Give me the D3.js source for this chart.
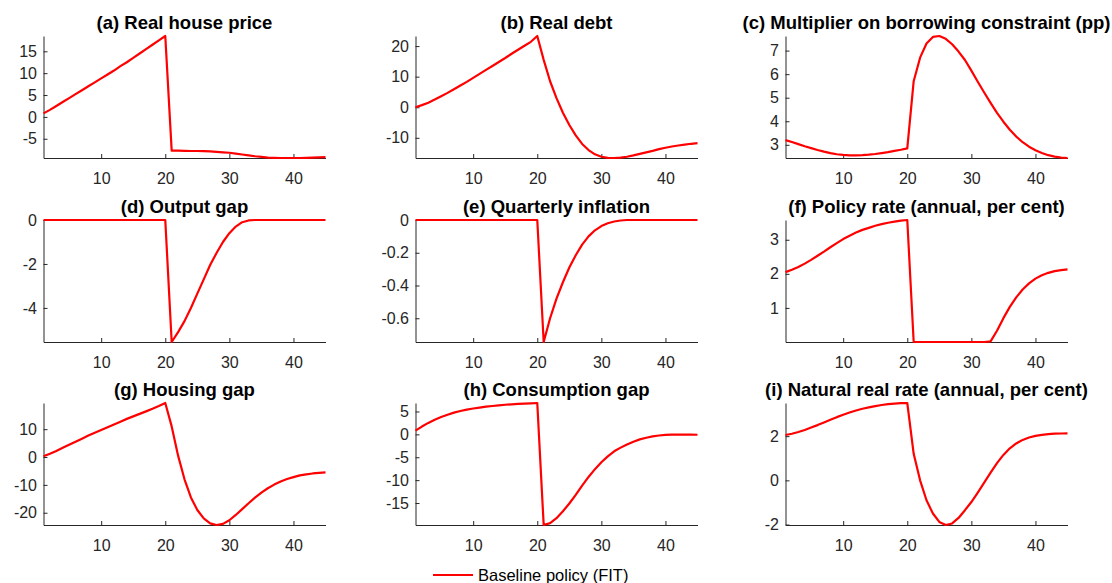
<!DOCTYPE html>
<html>
<head>
<meta charset="utf-8">
<script src="https://cdn.jsdelivr.net/npm/d3@7"></script>
<style>
  body { margin:0; background:#fff; }
  text { font-family: "Liberation Sans", Arial, sans-serif; }
</style>
</head>
<body>
<script>
// quarters 1..45
var quarters = d3.range(1, 46);

var housePrice = [0.8,1.6,2.5,3.4,4.3,5.2,6.1,7.0,7.9,8.8,9.7,10.6,11.6,12.5,13.5,14.5,15.5,16.5,17.5,18.5,
  -7.7,-7.7,-7.75,-7.8,-7.8,-7.85,-7.9,-8.0,-8.1,-8.2,-8.4,-8.6,-8.8,-9.0,-9.15,-9.3,-9.35,-9.4,-9.4,-9.4,-9.4,-9.35,-9.3,-9.25,-9.2];
var realDebt = [0,0.7,1.5,2.5,3.6,4.7,5.9,7.1,8.3,9.6,10.9,12.2,13.5,14.8,16.1,17.5,18.8,20.1,21.4,23.3,
  15.5,8.5,3.0,-1.8,-5.8,-9.2,-12.0,-14.0,-15.4,-16.2,-16.55,-16.6,-16.5,-16.2,-15.75,-15.25,-14.75,-14.25,-13.7,-13.25,-12.85,-12.5,-12.2,-11.95,-11.75];
var multiplier = [3.2,3.12,3.03,2.94,2.86,2.78,2.71,2.65,2.6,2.57,2.55,2.55,2.56,2.58,2.61,2.65,2.69,2.74,2.79,2.85,
  5.7,6.7,7.3,7.58,7.62,7.5,7.27,6.96,6.6,6.15,5.68,5.22,4.78,4.36,3.98,3.64,3.35,3.11,2.92,2.77,2.65,2.56,2.5,2.46,2.44];
var outputGap = [0,0,0,0,0,0,0,0,0,0,0,0,0,0,0,0,0,0,0,0,
  -5.55,-5.1,-4.6,-4.0,-3.35,-2.7,-2.05,-1.5,-1.0,-0.6,-0.3,-0.1,-0.02,0,0,0,0,0,0,0,0,0,0,0,0];
var inflation = [0,0,0,0,0,0,0,0,0,0,0,0,0,0,0,0,0,0,0,0,
  -0.745,-0.6,-0.48,-0.38,-0.29,-0.215,-0.15,-0.1,-0.063,-0.037,-0.02,-0.009,-0.003,0,0,0,0,0,0,0,0,0,0,0,0];
var policyRate = [2.05,2.12,2.2,2.3,2.41,2.53,2.65,2.78,2.9,3.02,3.12,3.21,3.29,3.35,3.41,3.46,3.5,3.53,3.56,3.58,
  0,0,0,0,0,0,0,0,0,0,0,0,0.02,0.33,0.7,1.03,1.31,1.54,1.72,1.86,1.96,2.03,2.08,2.11,2.13];
var housingGap = [0.3,1.2,2.2,3.3,4.4,5.5,6.6,7.7,8.7,9.7,10.7,11.7,12.7,13.7,14.6,15.5,16.4,17.3,18.3,19.4,
  11,0.5,-8,-14.5,-19,-22,-23.8,-24.4,-24,-22.7,-20.8,-18.7,-16.6,-14.6,-12.8,-11.2,-9.9,-8.8,-7.9,-7.2,-6.6,-6.2,-5.9,-5.7,-5.5];
var consGap = [0.8,1.7,2.5,3.2,3.8,4.3,4.75,5.1,5.4,5.65,5.85,6.05,6.2,6.35,6.47,6.57,6.65,6.72,6.78,6.85,
  -19.8,-19.4,-18.3,-16.8,-15.1,-13.2,-11.2,-9.3,-7.6,-6.1,-4.8,-3.7,-2.9,-2.2,-1.6,-1.1,-0.75,-0.45,-0.25,-0.12,-0.07,-0.05,-0.05,-0.06,-0.08];
var naturalRate = [2.05,2.11,2.19,2.28,2.39,2.5,2.62,2.74,2.86,2.97,3.07,3.16,3.24,3.3,3.36,3.41,3.45,3.47,3.49,3.5,
  1.2,0.0,-0.9,-1.5,-1.88,-2.02,-1.95,-1.7,-1.35,-0.98,-0.55,-0.1,0.35,0.78,1.15,1.45,1.67,1.83,1.94,2.01,2.06,2.09,2.11,2.12,2.13];

var titles = ["(a) Real house price","(b) Real debt","(c) Multiplier on borrowing constraint (pp)",
  "(d) Output gap","(e) Quarterly inflation","(f) Policy rate (annual, per cent)",
  "(g) Housing gap","(h) Consumption gap","(i) Natural real rate (annual, per cent)"];
var series = [housePrice, realDebt, multiplier, outputGap, inflation, policyRate, housingGap, consGap, naturalRate];
var yTicks = [[-5,0,5,10,15],[-10,0,10,20],[3,4,5,6,7],[-4,-2,0],[-0.6,-0.4,-0.2,0],[1,2,3],[-20,-10,0,10],[-15,-10,-5,0,5],[-2,0,2]];
var xTicks = [10,20,30,40];
var legendLabel = "Baseline policy (FIT)";

function ready(fn) {
  if (document.readyState != 'loading'){ fn(); }
  else { document.addEventListener('DOMContentLoaded', fn); }
}
ready(init);

function init(){
  var w = 1112, h = 583;
  var lefts = [43.5, 415.5, 785.5];
  var tops = [36, 220, 403];
  var pw = 282, ph = 122;
  var axisColor = "#262626";
  var font = '"Liberation Sans", Arial, sans-serif';

  var svg = d3.select("body").append("svg")
      .attr("width", w).attr("height", h);

  series.forEach(function(vals, k){
    var col = k % 3, row = Math.floor(k / 3);
    var g = svg.append("g")
        .attr("transform", "translate(" + lefts[col] + "," + tops[row] + ")");

    var x = d3.scaleLinear().domain([1, 45]).range([0, pw]);
    var y = d3.scaleLinear().domain(d3.extent(vals)).range([ph, 0]);

    // ticks point inward, like matlab
    var xa = g.append("g").attr("transform", "translate(0," + ph + ")")
        .call(d3.axisBottom(x).tickValues(xTicks).tickSizeInner(-4).tickSizeOuter(0).tickPadding(14.5));
    var ya = g.append("g")
        .call(d3.axisLeft(y).tickValues(yTicks[k]).tickSizeInner(-4).tickSizeOuter(0).tickPadding(6.5)
          .tickFormat(function(d){ return String(d); }));

    [xa, ya].forEach(function(a){
      a.select(".domain").attr("stroke", axisColor).attr("stroke-width", 1);
      a.selectAll(".tick line").attr("stroke", axisColor);
      a.selectAll(".tick text").attr("fill", axisColor)
        .style("font-size", "16px").style("font-family", font);
    });

    var line = d3.line().x(function(d, i){ return x(quarters[i]); }).y(function(d){ return y(d); });
    g.append("path")
        .datum(vals)
        .attr("fill", "none")
        .attr("stroke", "#ff0000")
        .attr("stroke-width", 2.2)
        .attr("stroke-linejoin", "round")
        .attr("d", line);

    g.append("text")
        .attr("x", pw / 2)
        .attr("y", -7.5)
        .attr("text-anchor", "middle")
        .style("font-size", "18.5px")
        .style("font-weight", "bold")
        .attr("fill", "#000")
        .text(titles[k]);
  });

  // legend
  var lg = svg.append("g").attr("transform", "translate(433,575)");
  lg.append("line").attr("x1", 0).attr("x2", 40).attr("y1", 0).attr("y2", 0)
      .attr("stroke", "#ff0000").attr("stroke-width", 2.2);
  lg.append("text").attr("x", 45).attr("y", 6)
      .style("font-size", "16.5px").attr("fill", "#000")
      .text(legendLabel);
}
</script>
</body>
</html>
